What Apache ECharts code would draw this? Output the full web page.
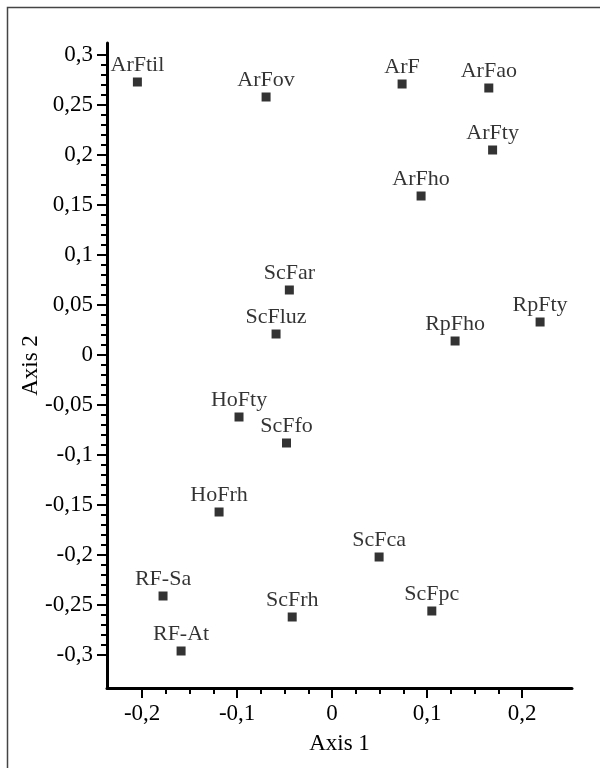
<!DOCTYPE html>
<html>
<head>
<meta charset="utf-8">
<script src="https://cdn.jsdelivr.net/npm/echarts@6/dist/echarts.min.js"></script>
<style>
  html, body { margin: 0; background: #fff; }
  #chart { width: 600px; height: 768px; }
</style>
</head>
<body>
<div id="chart"></div>
<script>
// site labels and their coordinates on the two ordination axes
const names = ['ArFtil', 'ArFov', 'ArF', 'ArFao', 'ArFty', 'ArFho', 'ScFar', 'ScFluz', 'RpFho', 'RpFty',
  'HoFty', 'ScFfo', 'HoFrh', 'ScFca', 'RF-Sa', 'ScFrh', 'ScFpc', 'RF-At']
const axis1 = [-0.205, -0.0695, 0.0737, 0.165, 0.169, 0.0937, -0.045, -0.059, 0.1295, 0.219,
  -0.098, -0.048, -0.119, 0.0495, -0.178, -0.042, 0.105, -0.159]
const axis2 = [0.273, 0.258, 0.271, 0.267, 0.205, 0.159, 0.065, 0.021, 0.014, 0.033,
  -0.062, -0.088, -0.157, -0.202, -0.241, -0.262, -0.256, -0.296]

const xTicks = [-0.2, -0.1, 0, 0.1, 0.2]
const yTicks = [-0.3, -0.25, -0.2, -0.15, -0.1, -0.05, 0, 0.05, 0.1, 0.15, 0.2, 0.25, 0.3]

// minor ticks: subdivide each major interval
function minors(major, parts) {
  const out = []
  for (let i = 0; i < major.length - 1; i++) {
    const step = (major[i + 1] - major[i]) / parts
    for (let k = 1; k < parts; k++) out.push(+(major[i] + step * k).toFixed(4))
  }
  return out
}
const xMinor = minors(xTicks, 4)
const yMinor = minors(yTicks, 5)

const font = 'Liberation Serif'
const fmt = v => String(v).replace('.', ',')

const chart = echarts.init(document.getElementById('chart'))

const baseAxis = {
  axisLine: { show: true, onZero: false, lineStyle: { color: '#000', width: 3 } },
  splitLine: { show: false },
  axisLabel: { show: true, color: '#000', fontFamily: font, fontSize: 23, margin: 14, formatter: fmt },
  nameTextStyle: { color: '#000', fontFamily: font, fontSize: 23 },
  nameLocation: 'middle',
  nameMoveOverlap: false
}
const minorAxis = {
  axisLine: { show: false, onZero: false },
  splitLine: { show: false },
  axisLabel: { show: false }
}

chart.setOption({
  animation: false,
  backgroundColor: '#fff',
  graphic: [{
    type: 'rect',
    shape: { x: 7.5, y: 7.5, width: 700, height: 900 },
    style: { fill: 'none', stroke: '#444', lineWidth: 1.5 }
  }],
  grid: { left: 107, right: 28, top: 43, bottom: 80 },
  xAxis: [
    Object.assign({}, baseAxis, {
      type: 'value', min: -0.237, max: 0.2526, position: 'bottom',
      name: 'Axis 1', nameGap: 44,
      axisLabel: Object.assign({}, baseAxis.axisLabel, { customValues: xTicks }),
      axisTick: { show: true, length: 10, customValues: xTicks, lineStyle: { color: '#000', width: 2 } }
    }),
    Object.assign({}, minorAxis, {
      type: 'value', min: -0.237, max: 0.2526, position: 'bottom',
      axisTick: { show: true, length: 6, customValues: xMinor, lineStyle: { color: '#000', width: 2 } }
    })
  ],
  yAxis: [
    Object.assign({}, baseAxis, {
      type: 'value', min: -0.333, max: 0.312, position: 'left',
      name: 'Axis 2', nameGap: 65,
      axisLabel: Object.assign({}, baseAxis.axisLabel, { customValues: yTicks }),
      axisTick: { show: true, length: 10, customValues: yTicks, lineStyle: { color: '#000', width: 2 } }
    }),
    Object.assign({}, minorAxis, {
      type: 'value', min: -0.333, max: 0.312, position: 'left',
      axisTick: { show: true, length: 6, customValues: yMinor, lineStyle: { color: '#000', width: 2 } }
    })
  ],
  series: [{
    type: 'scatter',
    symbol: 'rect',
    symbolSize: 9,
    itemStyle: { color: '#000' },
    label: {
      show: true,
      position: 'top',
      distance: 1,
      color: '#000',
      fontFamily: font,
      fontSize: 22,
      formatter: p => p.data[2]
    },
    data: names.map((n, i) => [axis1[i], axis2[i], n])
  }]
})
</script>
</body>
</html>
